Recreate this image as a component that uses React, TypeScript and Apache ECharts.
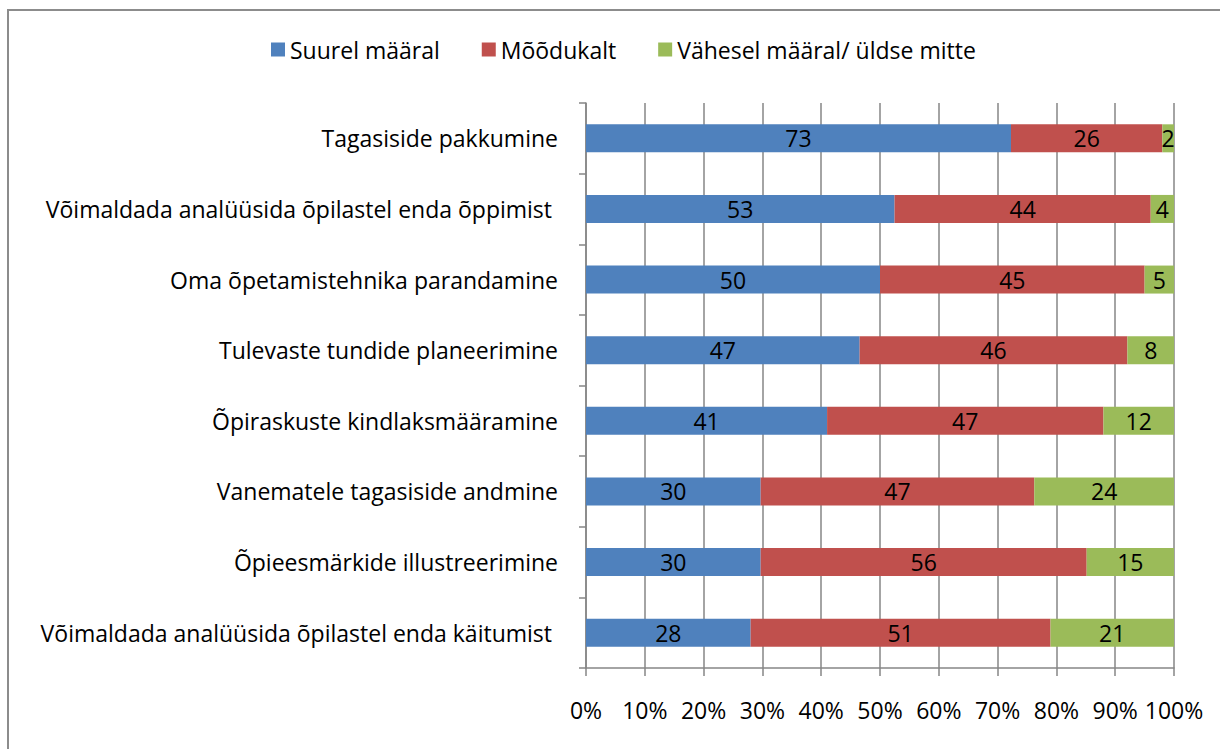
import React, { useEffect, useRef } from "react";
import * as echarts from "echarts";

const categories = [
  "Tagasiside pakkumine",
  "Võimaldada analüüsida õpilastel enda õppimist ",
  "Oma õpetamistehnika parandamine",
  "Tulevaste tundide planeerimine",
  "Õpiraskuste kindlaksmääramine",
  "Vanematele tagasiside andmine",
  "Õpieesmärkide illustreerimine",
  "Võimaldada analüüsida õpilastel enda käitumist ",
];
const seriesNames = ["Suurel määral", "Mõõdukalt", "Vähesel määral/ üldse mitte"];
const suurel = [73, 53, 50, 47, 41, 30, 30, 28];
const moodukalt = [26, 44, 45, 46, 47, 47, 56, 51];
const vahesel = [2, 4, 5, 8, 12, 24, 15, 21];
const colors = ["#4F81BD", "#C0504D", "#9BBB59"];
const FONT = "Open Sans";
const FS = 23;

export default function App() {
  const ref = useRef<HTMLDivElement>(null);
  useEffect(() => {
    document.body.style.margin = "0";
    const chart = echarts.init(ref.current!, null, { renderer: "svg" });
    const raw = [suurel, moodukalt, vahesel];
    const totals = categories.map((_, i) => suurel[i] + moodukalt[i] + vahesel[i]);
    const series = raw.map((vals, s) => ({
      name: seriesNames[s],
      type: "bar",
      stack: "total",
      barWidth: 28,
      itemStyle: { color: colors[s] },
      label: {
        show: true,
        position: "inside",
        color: "#000",
        fontFamily: FONT,
        fontSize: FS,
        formatter: (p: any) => String(vals[p.dataIndex]),
      },
      data: vals.map((v, i) => (v / totals[i]) * 100),
    }));
    chart.setOption({
      animation: false,
      textStyle: { fontFamily: FONT },
      legend: {
        top: 33,
        left: 266,
        itemWidth: 14,
        itemHeight: 14,
        itemGap: 42,
        icon: "rect",
        textStyle: { fontFamily: FONT, fontSize: FS, color: "#000" },
        data: seriesNames,
      },
      grid: { left: 586, right: 46, top: 103, bottom: 81, containLabel: false },
      xAxis: {
        type: "value",
        min: 0,
        max: 100,
        interval: 10,
        axisLine: { show: true, lineStyle: { color: "#868686", width: 1.5 } },
        axisTick: { show: true, length: 8, lineStyle: { color: "#868686", width: 1.5 } },
        splitLine: { show: true, lineStyle: { color: "#868686", width: 1.5 } },
        axisLabel: {
          formatter: "{value}%",
          fontFamily: FONT,
          fontSize: FS,
          color: "#000",
          margin: 30,
        },
      },
      yAxis: {
        type: "category",
        inverse: true,
        data: categories,
        axisLine: { show: true, lineStyle: { color: "#868686", width: 1.5 } },
        axisTick: { show: true, length: 7, lineStyle: { color: "#868686", width: 1.5 } },
        axisLabel: { fontFamily: FONT, fontSize: FS, color: "#000", margin: 28 },
      },
      graphic: [
        {
          type: "rect",
          shape: { x: 8, y: 10, width: 1300, height: 800 },
          style: { fill: "none", stroke: "#8c8c8c", lineWidth: 2 },
          silent: true,
        },
      ],
      series,
    });
    return () => chart.dispose();
  }, []);
  return <div ref={ref} style={{ width: 1220, height: 749 }} />;
}
